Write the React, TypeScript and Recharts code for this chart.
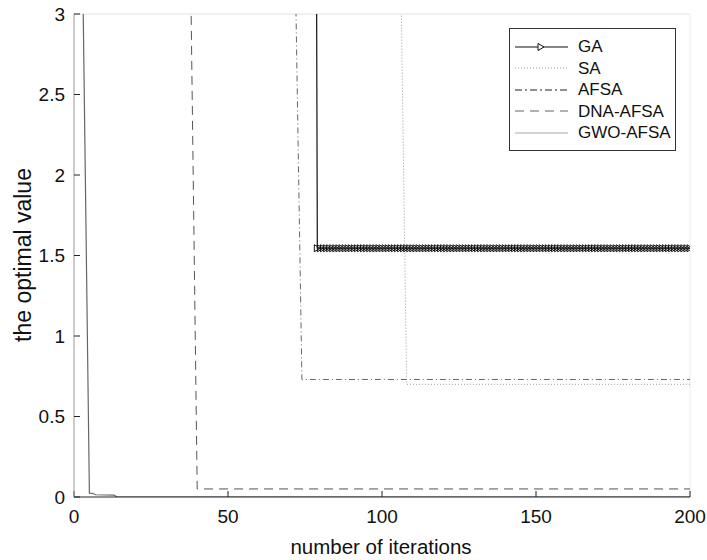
import { LineChart, Line, XAxis, YAxis, Legend, ReferenceLine } from 'recharts';

// iterations on x, optimal value on y (values above 3 run off the top of the plot)
const xTicks = [0, 50, 100, 150, 200];
const yTicks = [0, 0.5, 1, 1.5, 2, 2.5, 3];

// GA is sampled at every iteration from gaStart on (one marker per iteration)
const gaStart = 78;
const gaValues = [
  8.2,
  1.545, 1.545, 1.545, 1.545, 1.545, 1.545, 1.545, 1.545, 1.545, 1.545,
  1.545, 1.545, 1.545, 1.545, 1.545, 1.545, 1.545, 1.545, 1.545, 1.545,
  1.545, 1.545, 1.545, 1.545, 1.545, 1.545, 1.545, 1.545, 1.545, 1.545,
  1.545, 1.545, 1.545, 1.545, 1.545, 1.545, 1.545, 1.545, 1.545, 1.545,
  1.545, 1.545, 1.545, 1.545, 1.545, 1.545, 1.545, 1.545, 1.545, 1.545,
  1.545, 1.545, 1.545, 1.545, 1.545, 1.545, 1.545, 1.545, 1.545, 1.545,
  1.545, 1.545, 1.545, 1.545, 1.545, 1.545, 1.545, 1.545, 1.545, 1.545,
  1.545, 1.545, 1.545, 1.545, 1.545, 1.545, 1.545, 1.545, 1.545, 1.545,
  1.545, 1.545, 1.545, 1.545, 1.545, 1.545, 1.545, 1.545, 1.545, 1.545,
  1.545, 1.545, 1.545, 1.545, 1.545, 1.545, 1.545, 1.545, 1.545, 1.545,
  1.545, 1.545, 1.545, 1.545, 1.545, 1.545, 1.545, 1.545, 1.545, 1.545,
  1.545, 1.545, 1.545, 1.545, 1.545, 1.545, 1.545, 1.545, 1.545, 1.545,
  1.545, 1.545,
];

// the other curves are step-like, so only their break points are kept
const saIter = [0, 106, 108, 200];
const saValues = [9.5, 3.4, 0.7, 0.7];

const afsaIter = [0, 72, 74, 200];
const afsaValues = [9, 3.1, 0.73, 0.73];

const dnaIter = [0, 38, 40, 200];
const dnaValues = [9, 3.05, 0.05, 0.05];

const gwoIter = [0, 3, 5, 6, 7, 13, 14, 200];
const gwoValues = [9, 3.0, 0.024, 0.023, 0.014, 0.012, 0, 0];

const toPoints = (xs: number[], ys: number[]) => xs.map((x, i) => ({ x, y: ys[i] }));

const gaData = gaValues.map((y, i) => ({ x: gaStart + i, y }));
const saData = toPoints(saIter, saValues);
const afsaData = toPoints(afsaIter, afsaValues);
const dnaData = toPoints(dnaIter, dnaValues);
const gwoData = toPoints(gwoIter, gwoValues);

const FONT = '"Liberation Sans", Arial, sans-serif';

const LEGEND_ITEMS = [
  { name: 'GA', stroke: '#111', dash: undefined, marker: true },
  { name: 'SA', stroke: '#999', dash: '1 2', marker: false },
  { name: 'AFSA', stroke: '#222', dash: '7 3 2 3', marker: false },
  { name: 'DNA-AFSA', stroke: '#666', dash: '9 6', marker: false },
  { name: 'GWO-AFSA', stroke: '#aaa', dash: undefined, marker: false },
];

function Triangle(props: any) {
  const { cx, cy, index } = props;
  if (cx == null || cy == null) return <g key={`ga-${index}`} />;
  return (
    <polygon
      key={`ga-${index}`}
      points={`${cx - 3},${cy - 3.5} ${cx + 3},${cy} ${cx - 3},${cy + 3.5}`}
      fill="none"
      stroke="#111"
      strokeWidth={1}
    />
  );
}

function renderLegend() {
  return (
    <div
      style={{
        border: '1px solid #333',
        background: '#fff',
        width: 167,
        height: 123,
        paddingTop: 7,
        boxSizing: 'border-box',
        fontFamily: FONT,
        fontSize: 17,
        color: '#111',
      }}
    >
      {LEGEND_ITEMS.map((it) => (
        <div key={it.name} style={{ display: 'flex', alignItems: 'center', height: 21.5 }}>
          <svg width={68} height={12} style={{ display: 'block' }}>
            <line x1={5} x2={58} y1={6} y2={6} stroke={it.stroke} strokeWidth={1.2} strokeDasharray={it.dash} />
            {it.marker && <polygon points="28,2.5 34,6 28,9.5" fill="#fff" stroke="#111" strokeWidth={1} />}
          </svg>
          <span style={{ lineHeight: 1 }}>{it.name}</span>
        </div>
      ))}
    </div>
  );
}

export default function App() {
  return (
    <div style={{ position: 'absolute', left: 0, top: 0, background: '#fff' }}>
      <LineChart width={707} height={560} margin={{ top: 14, right: 17, bottom: 23, left: 14 }}>
        <XAxis
          dataKey="x"
          type="number"
          domain={[0, 200]}
          ticks={xTicks}
          allowDataOverflow
          height={40}
          stroke="#222"
          tickSize={-6}
          tickMargin={19}
          tick={{ fontSize: 19, fontFamily: FONT, fill: '#111' }}
          label={{
            content: () => (
              <text x={381} y={554} textAnchor="middle" fontSize={20.5} fontFamily={FONT} fill="#111">
                number of iterations
              </text>
            ),
          }}
        />
        <YAxis
          type="number"
          domain={[0, 3]}
          ticks={yTicks}
          allowDataOverflow
          width={60}
          stroke="#999"
          tickLine={{ stroke: '#222' }}
          tickSize={-6}
          tickMargin={15}
          tick={{ fontSize: 19, fontFamily: FONT, fill: '#111' }}
          label={{
            content: () => (
              <text
                x={31}
                y={255}
                transform="rotate(-90 31 255)"
                textAnchor="middle"
                fontSize={23}
                fontFamily={FONT}
                fill="#111"
              >
                the optimal value
              </text>
            ),
          }}
        />
        <ReferenceLine y={3} stroke="#e2e2e2" />
        <ReferenceLine x={200} stroke="#ececec" />
        <Line data={gwoData} dataKey="y" name="GWO-AFSA" type="linear" stroke="#666" strokeWidth={1.2} dot={false} activeDot={false} isAnimationActive={false} />
        <Line data={dnaData} dataKey="y" name="DNA-AFSA" type="linear" stroke="#555" strokeDasharray="9 6" dot={false} activeDot={false} isAnimationActive={false} />
        <Line data={afsaData} dataKey="y" name="AFSA" type="linear" stroke="#666" strokeDasharray="6 3 1 3" dot={false} activeDot={false} isAnimationActive={false} />
        <Line data={saData} dataKey="y" name="SA" type="linear" stroke="#999" strokeDasharray="1 2" dot={false} activeDot={false} isAnimationActive={false} />
        <Line data={gaData} dataKey="y" name="GA" type="linear" stroke="#111" strokeWidth={1.2} dot={Triangle} activeDot={false} isAnimationActive={false} />
        <Legend
          layout="vertical"
          align="center"
          verticalAlign="middle"
          content={renderLegend}
          wrapperStyle={{ left: 509, top: 28, width: 167, height: 123 }}
        />
      </LineChart>
    </div>
  );
}
